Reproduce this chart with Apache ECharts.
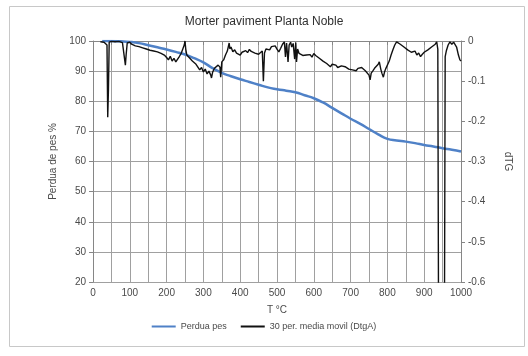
<!DOCTYPE html>
<html>
<head>
<meta charset="utf-8">
<script src="https://cdn.jsdelivr.net/npm/echarts@6/dist/echarts.min.js"></script>
<style>
  html, body { margin: 0; padding: 0; background: #fff; }
  #chart { width: 528px; height: 356px; }
</style>
</head>
<body>
<div id="chart"></div>
<script>
// Weight loss (%) versus temperature
const lossTemp = [25, 50, 75, 100, 125, 150, 175, 200, 225, 250, 275, 300, 325, 350, 375, 400,
  425, 450, 475, 500, 525, 550, 575, 600, 625, 650, 675, 700, 725, 750, 775, 800,
  825, 850, 875, 900, 925, 950, 975, 1000];
const lossPct = [100, 100, 99.9, 99.7, 99.3, 98.6, 97.9, 97.2, 96.4, 95.5, 94.3, 92.9, 91.0, 89.4, 88.3, 87.3,
  86.4, 85.5, 84.6, 84.0, 83.5, 83.0, 82.0, 81.0, 79.6, 77.8, 76.0, 74.2, 72.6, 70.8, 69.0, 67.5,
  67.0, 66.6, 66.1, 65.5, 65.0, 64.4, 63.9, 63.3];

// 30-period moving average of the derivative (DtgA)
const dtgTemp = [20, 25, 30, 35, 38, 40, 42, 44, 50, 55, 60, 65, 70, 75, 80, 85, 88, 90, 93,
  100, 105, 110, 115, 120, 125, 130, 135, 140, 145, 150, 155, 160, 165, 170, 175, 180, 185, 190, 195,
  200, 205, 210, 215, 220, 225, 230, 235, 240, 245, 248, 250, 252, 255, 260, 265, 270, 275, 280, 285, 290, 295,
  300, 305, 310, 315, 320, 322, 325, 330, 335, 340, 345, 347, 350, 355, 360, 365, 370, 372, 375, 380, 385, 390, 395,
  400, 405, 410, 415, 420, 425, 430, 435, 440, 445, 450, 455, 460, 463, 466, 470, 475, 480, 485, 490, 495,
  500, 505, 510, 515, 520, 523, 526, 530, 533, 537, 540, 544, 548, 551, 553, 556, 560, 565, 570, 575, 580, 585, 590, 595,
  600, 605, 610, 615, 620, 625, 630, 635, 640, 645, 650, 655, 660, 665, 670, 675, 680, 685, 690, 695,
  700, 705, 710, 715, 720, 725, 730, 735, 740, 745, 750, 753, 756, 760, 765, 770, 775, 778, 782, 785, 789, 792, 795,
  800, 805, 810, 815, 820, 825, 830, 835, 840, 845, 850, 855, 860, 865, 870, 875, 880, 885, 890, 895,
  900, 905, 910, 915, 920, 925, 930, 934, 937, 939, 955, 957, 960, 965, 970, 975, 980, 984, 988, 993, 997, 1000];
const dtgValue = [-0.002, -0.001, -0.003, -0.002, -0.01, -0.19, -0.12, -0.003, -0.001, -0.004, -0.002, -0.003, -0.001, -0.005, -0.004, -0.008, -0.06, -0.035, -0.005,
  -0.003, -0.008, -0.006, -0.012, -0.009, -0.014, -0.011, -0.017, -0.015, -0.02, -0.016, -0.023, -0.019, -0.025, -0.021, -0.027, -0.024, -0.031, -0.028, -0.036,
  -0.041, -0.047, -0.038, -0.05, -0.043, -0.052, -0.045, -0.038, -0.03, -0.027, -0.01, 0.0, -0.02, -0.035, -0.04, -0.045, -0.05, -0.048, -0.058, -0.056, -0.072, -0.066,
  -0.077, -0.07, -0.082, -0.075, -0.085, -0.092, -0.078, -0.068, -0.07, -0.06, -0.065, -0.09, -0.052, -0.047, -0.035, -0.025, -0.005, -0.02, -0.015, -0.027, -0.022, -0.03, -0.026,
  -0.035, -0.028, -0.032, -0.024, -0.029, -0.021, -0.026, -0.022, -0.03, -0.027, -0.033, -0.035, -0.025, -0.1, -0.03, -0.02, -0.018, -0.022, -0.014, -0.018, -0.012,
  -0.02, -0.027, -0.018, -0.008, -0.002, -0.04, -0.005, -0.052, -0.01, -0.003, -0.015, -0.006, -0.045, -0.004, -0.052, -0.02, -0.031, -0.028, -0.036, -0.032, -0.035, -0.038, -0.034, -0.04,
  -0.031, -0.036, -0.04, -0.043, -0.047, -0.05, -0.053, -0.056, -0.06, -0.064, -0.058, -0.062, -0.06, -0.066, -0.064, -0.062, -0.066, -0.064, -0.068, -0.07,
  -0.066, -0.072, -0.07, -0.074, -0.068, -0.064, -0.066, -0.07, -0.074, -0.077, -0.085, -0.097, -0.08, -0.075, -0.068, -0.064, -0.058, -0.052, -0.07, -0.08, -0.09, -0.078, -0.07,
  -0.066, -0.05, -0.035, -0.022, -0.01, -0.002, -0.005, -0.008, -0.01, -0.015, -0.018, -0.022, -0.02, -0.028, -0.031, -0.025, -0.035, -0.03, -0.039, -0.033,
  -0.028, -0.031, -0.022, -0.026, -0.015, -0.018, -0.008, -0.002, -0.02, -0.7, -0.7, -0.039, -0.025, -0.01, -0.002, -0.008, -0.003, -0.006, -0.015, -0.035, -0.047, -0.05];

const xTicks = [0, 1000, 50];
const leftTicks = [20, 100, 10];
const rightTicks = [-0.6, 0, 0.1];

const FONT = 'Liberation Sans';
const TXT = '#4a4a4a';
const GRID = '#a0a0a0';

const chart = echarts.init(document.getElementById('chart'), null, { renderer: 'canvas' });
chart.setOption({
  animation: false,
  backgroundColor: '#fff',
  textStyle: { fontFamily: FONT },
  graphic: [{
    type: 'rect', left: 7, top: 4,
    shape: { width: 515, height: 340 },
    style: { fill: 'none', stroke: '#c8c8c8', lineWidth: 1 },
    silent: true, z: -10
  }],
  title: {
    text: 'Morter paviment Planta Noble',
    left: 'center', top: 11,
    textStyle: { fontFamily: FONT, fontSize: 12, fontWeight: 'normal', color: '#303030' }
  },
  legend: {
    bottom: 20, left: 'center',
    itemWidth: 24, itemHeight: 2, itemGap: 14,
    icon: 'rect',
    textStyle: { fontFamily: FONT, fontSize: 9, color: TXT },
    data: ['Perdua pes', '30 per. media movil (DtgA)']
  },
  grid: { left: 93, right: 67, top: 41, bottom: 74 },
  xAxis: {
    type: 'value', min: xTicks[0], max: xTicks[1], interval: xTicks[2],
    name: 'T °C', nameLocation: 'middle', nameGap: 23,
    nameTextStyle: { fontFamily: FONT, fontSize: 10, color: TXT },
    axisLine: { lineStyle: { color: '#868686' } },
    axisTick: { show: true, length: 4, lineStyle: { color: '#868686' } },
    axisLabel: { fontSize: 10, color: TXT, margin: 6,
      formatter: v => (v % 100 === 0 ? String(v) : '') },
    splitLine: { show: true, lineStyle: { color: GRID, width: 1 } }
  },
  yAxis: [{
    type: 'value', min: leftTicks[0], max: leftTicks[1], interval: leftTicks[2],
    position: 'left',
    name: 'Perdua de pes %', nameLocation: 'middle', nameGap: 28, nameRotate: 90,
    nameTextStyle: { fontFamily: FONT, fontSize: 10, color: TXT },
    axisLine: { show: true, lineStyle: { color: '#868686' } },
    axisTick: { show: true, length: 4, lineStyle: { color: '#868686' } },
    axisLabel: { fontSize: 10, color: TXT, margin: 7 },
    splitLine: { show: true, lineStyle: { color: GRID, width: 1 } }
  }, {
    type: 'value', min: rightTicks[0], max: rightTicks[1], interval: rightTicks[2],
    position: 'right',
    name: 'dTG', nameLocation: 'middle', nameGap: 42, nameRotate: -90,
    nameTextStyle: { fontFamily: FONT, fontSize: 10, color: TXT },
    axisLine: { show: true, lineStyle: { color: '#868686' } },
    axisTick: { show: true, length: 4, lineStyle: { color: '#868686' } },
    axisLabel: { fontSize: 10, color: TXT, margin: 7,
      formatter: v => (v === 0 ? '0' : String(Math.round(v * 10) / 10)) },
    splitLine: { show: false }
  }],
  series: [{
    name: 'Perdua pes', type: 'line', yAxisIndex: 0,
    data: lossTemp.map((t, i) => [t, lossPct[i]]),
    showSymbol: false, smooth: true,
    lineStyle: { color: '#4f81c7', width: 2.5 },
    itemStyle: { color: '#4f81c7' },
    z: 2
  }, {
    name: '30 per. media movil (DtgA)', type: 'line', yAxisIndex: 1,
    data: dtgTemp.map((t, i) => [t, dtgValue[i]]),
    showSymbol: false, clip: true,
    lineStyle: { color: '#111', width: 1.4 },
    itemStyle: { color: '#111' },
    z: 3
  }]
});
</script>
</body>
</html>
